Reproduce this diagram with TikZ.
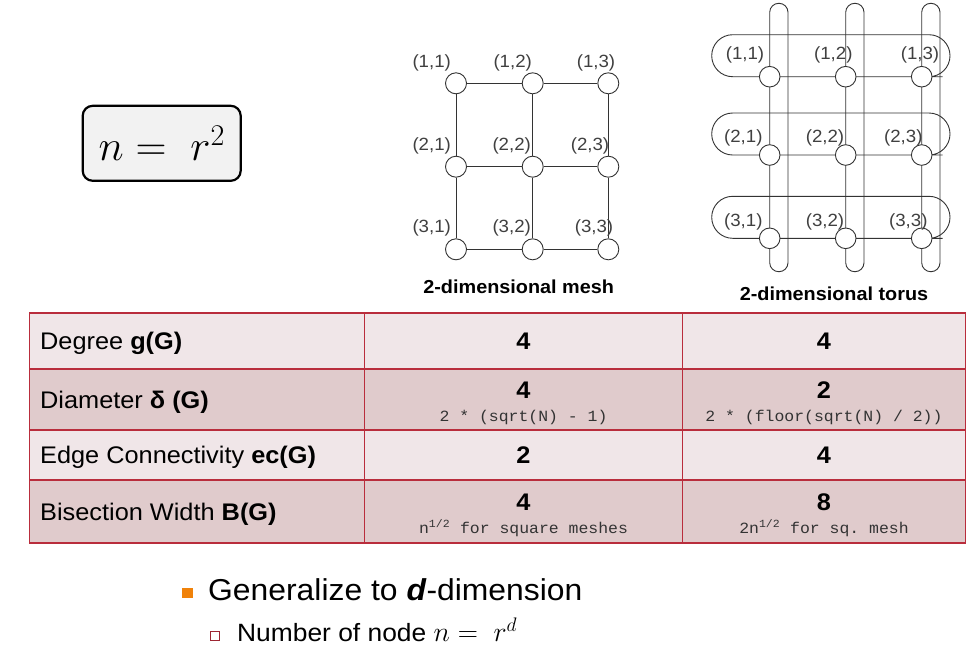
\documentclass[tikz,border=0pt]{standalone}
\usepackage{fix-cm}
\usepackage{fontspec}
\setmainfont{Liberation Sans}[FakeStretch=1.055]
\setmonofont{Liberation Mono}[FakeStretch=1.055]
\usetikzlibrary{backgrounds}
\definecolor{tblred}{RGB}{185,45,60}
\definecolor{rowA}{RGB}{240,230,232}
\definecolor{rowB}{RGB}{224,203,204}
\definecolor{bulorange}{RGB}{240,130,10}
\definecolor{eqgray}{RGB}{242,242,242}
\tikzset{
VERTEX/.style={draw=black!80,fill=white,circle,minimum size=#1,inner sep=0pt,line width=0.9pt},
VERTEX/.default=21pt,
EDGE/.style={draw=black!80,line width=0.9pt},
LOOP/.style={draw=black!80,line width=0.9pt,rounded corners=#1},
LOOP/.default=9pt,
LBL/.style={text=black!75,inner sep=0pt,font=\fontsize{17.7}{20}\selectfont},
CAPTION/.style={inner sep=0pt,font=\bfseries\fontsize{18.8}{22}\selectfont},
CELL/.style={draw=tblred,line width=1.2pt,fill=#1,inner sep=0pt},
CELL/.default=rowA,
ROWTXT/.style={anchor=base west,inner sep=0pt,font=\fontsize{24}{28}\selectfont},
VAL/.style={inner sep=0pt,font=\bfseries\fontsize{24}{28}\selectfont},
FORMULA/.style={anchor=base,inner sep=0pt,text=black!80,font=\ttfamily\fontsize{15.6}{18}\selectfont},
}

\begin{document}
\begin{tikzpicture} %mesh and torus
[x=1pt,y=-1pt]
	\useasboundingbox (0,0) rectangle (977,654);
	\node[draw=black,line width=2.2pt,fill=eqgray,rounded corners=10pt,minimum width=158pt,minimum height=75pt,font=\fontsize{43}{46}\selectfont] (eq) at (161.7,143.3) {$n =\; r^2$};
% 2-dimensional mesh
	\node[VERTEX] (m11) at (456,83.3) {};
	\node[VERTEX] (m12) at (532.7,83.3) {};
	\node[VERTEX] (m13) at (608.3,83.3) {};
	\node[VERTEX] (m21) at (456,166.7) {};
	\node[VERTEX] (m22) at (532.7,166.7) {};
	\node[VERTEX] (m23) at (608.3,166.7) {};
	\node[VERTEX] (m31) at (456,249.3) {};
	\node[VERTEX] (m32) at (532.7,249.3) {};
	\node[VERTEX] (m33) at (608.3,249.3) {};
	\path[EDGE] (m11) -- (m12) -- (m13);
	\path[EDGE] (m21) -- (m22) -- (m23);
	\path[EDGE] (m31) -- (m32) -- (m33);
	\path[EDGE] (m11) -- (m21) -- (m31);
	\path[EDGE] (m12) -- (m22) -- (m32);
	\path[EDGE] (m13) -- (m23) -- (m33);
	\node[LBL] (lm11) at (431.7,62.7) {(1,1)};
	\node[LBL] (lm12) at (512.7,62.7) {(1,2)};
	\node[LBL] (lm13) at (596,62.7) {(1,3)};
	\node[LBL] (lm21) at (431.7,146) {(2,1)};
	\node[LBL] (lm22) at (511.7,146) {(2,2)};
	\node[LBL] (lm23) at (590,146) {(2,3)};
	\node[LBL] (lm31) at (431.7,228.3) {(3,1)};
	\node[LBL] (lm32) at (511.7,228.3) {(3,2)};
	\node[LBL] (lm33) at (594,228.3) {(3,3)};
	\node[CAPTION] (capm) at (518.7,287) {2-dimensional mesh};
% 2-dimensional torus
	\node[VERTEX=20.6pt] (t11) at (769.7,76.7) {};
	\node[VERTEX=20.6pt] (t12) at (845.7,76.7) {};
	\node[VERTEX=20.6pt] (t13) at (921.7,76.7) {};
	\node[VERTEX=20.6pt] (t21) at (769.7,155) {};
	\node[VERTEX=20.6pt] (t22) at (845.7,155) {};
	\node[VERTEX=20.6pt] (t23) at (921.7,155) {};
	\node[VERTEX=20.6pt] (t31) at (769.7,238.3) {};
	\node[VERTEX=20.6pt] (t32) at (845.7,238.3) {};
	\node[VERTEX=20.6pt] (t33) at (921.7,238.3) {};
\begin{scope}[on background layer]
	\path[LOOP=21pt] (t11.center) -- (t13.center) -- ++(28.3,0) -- ++(0,-42) -- ++(-238.3,0) -- ++(0,42) -- cycle;
	\path[LOOP=21pt] (t21.center) -- (t23.center) -- ++(28.3,0) -- ++(0,-42) -- ++(-238.3,0) -- ++(0,42) -- cycle;
	\path[LOOP=21pt] (t31.center) -- (t33.center) -- ++(28.3,0) -- ++(0,-42) -- ++(-238.3,0) -- ++(0,42) -- cycle;
	\path[LOOP] (t11.center) -- (t31.center) -- ++(0,33.4) -- ++(18.3,0) -- ++(0,-268.4) -- ++(-18.3,0) -- cycle;
	\path[LOOP] (t12.center) -- (t32.center) -- ++(0,33.4) -- ++(18.3,0) -- ++(0,-268.4) -- ++(-18.3,0) -- cycle;
	\path[LOOP] (t13.center) -- (t33.center) -- ++(0,33.4) -- ++(18.3,0) -- ++(0,-268.4) -- ++(-18.3,0) -- cycle;
\end{scope}
	\node[LBL] (lt11) at (745,55) {(1,1)};
	\node[LBL] (lt12) at (833.3,55) {(1,2)};
	\node[LBL] (lt13) at (920,55) {(1,3)};
	\node[LBL] (lt21) at (743.3,138.3) {(2,1)};
	\node[LBL] (lt22) at (825,138.3) {(2,2)};
	\node[LBL] (lt23) at (903.3,138.3) {(2,3)};
	\node[LBL] (lt31) at (743.3,221.7) {(3,1)};
	\node[LBL] (lt32) at (825,221.7) {(3,2)};
	\node[LBL] (lt33) at (908.3,221.7) {(3,3)};
	\node[CAPTION] (capt) at (834,294) {2-dimensional torus};
% table
	\node[CELL,minimum width=335pt,minimum height=56pt] (c11) at (197,341) {};
	\node[CELL,minimum width=318pt,minimum height=56pt] (c12) at (523.5,341) {};
	\node[CELL,minimum width=283pt,minimum height=56pt] (c13) at (824,341) {};
	\node[CELL=rowB,minimum width=335pt,minimum height=61pt] (c21) at (197,399.5) {};
	\node[CELL=rowB,minimum width=318pt,minimum height=61pt] (c22) at (523.5,399.5) {};
	\node[CELL=rowB,minimum width=283pt,minimum height=61pt] (c23) at (824,399.5) {};
	\node[CELL,minimum width=335pt,minimum height=50pt] (c31) at (197,455) {};
	\node[CELL,minimum width=318pt,minimum height=50pt] (c32) at (523.5,455) {};
	\node[CELL,minimum width=283pt,minimum height=50pt] (c33) at (824,455) {};
	\node[CELL=rowB,minimum width=335pt,minimum height=63pt] (c41) at (197,511.5) {};
	\node[CELL=rowB,minimum width=318pt,minimum height=63pt] (c42) at (523.5,511.5) {};
	\node[CELL=rowB,minimum width=283pt,minimum height=63pt] (c43) at (824,511.5) {};
	\node[ROWTXT] (r1) at (40,349.5) {Degree \textbf{g(G)}};
	\node[ROWTXT] (r2) at (40,408) {Diameter \textbf{δ (G)}};
	\node[ROWTXT] (r3) at (40,463.5) {Edge Connectivity \textbf{ec(G)}};
	\node[ROWTXT] (r4) at (40,520) {Bisection Width \textbf{B(G)}};
	\node[VAL] (v12) at (523.5,341) {4};
	\node[VAL] (v13) at (824,341) {4};
	\node[VAL] (v22) at (523.5,390) {4};
	\node[VAL] (v23) at (824,390) {2};
	\node[VAL] (v32) at (523.5,455) {2};
	\node[VAL] (v33) at (824,455) {4};
	\node[VAL] (v42) at (523.5,502) {4};
	\node[VAL] (v43) at (824,502) {8};
	\node[FORMULA] (f22) at (523.5,421) {2 * (sqrt(N) - 1)};
	\node[FORMULA] (f23) at (824,421) {2 * (floor(sqrt(N) / 2))};
	\node[FORMULA] (f42) at (523.5,533) {n\textsuperscript{1/2} for square meshes};
	\node[FORMULA] (f43) at (824,533) {2n\textsuperscript{1/2} for sq. mesh};
% bullets
	\node[fill=bulorange,minimum width=11pt,minimum height=10pt,inner sep=0pt] (b1) at (187,592.5) {};
	\node[anchor=base west,inner sep=0pt,font=\fontsize{30.2}{34}\selectfont] (g1) at (208,600.5) {Generalize to \textbf{\textit{d}}-dimension};
	\node[draw=tblred!85!black,fill=white,line width=1.3pt,minimum size=8.5pt,inner sep=0pt] (b2) at (215,636) {};
	\node[anchor=base west,inner sep=0pt,font=\fontsize{25}{28}\selectfont] (g2) at (237,641.5) {Number of node {\fontsize{28}{30}\selectfont$n =\; r^d$}};
\end{tikzpicture}
\end{document}
